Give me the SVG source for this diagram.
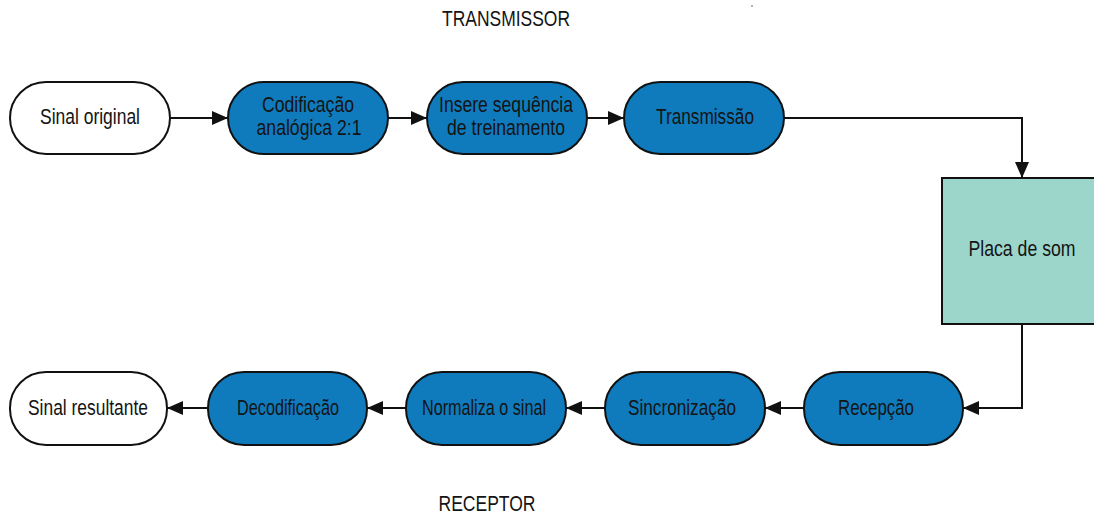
<svg xmlns="http://www.w3.org/2000/svg" width="1094" height="514" viewBox="0 0 1094 514">
  <style>
    .t { font-family: "Liberation Sans", Arial, sans-serif; font-size: 22px; fill: #141414; text-anchor: middle; }
    .term { fill: #ffffff; stroke: #111111; stroke-width: 2; }
    .step { fill: #0f7bbd; stroke: #111111; stroke-width: 2; }
    .box { fill: #9cd6cb; stroke: #111111; stroke-width: 2; }
    .wire { fill: none; stroke: #111111; stroke-width: 2; }
  </style>
  <defs>
    <marker id="arrow" viewBox="0 0 16 14" refX="16" refY="7" markerWidth="16" markerHeight="14" markerUnits="userSpaceOnUse" orient="auto">
      <path d="M0,0 L16,7 L0,14 Z" fill="#111111"/>
    </marker>
  </defs>
  <rect width="1094" height="514" fill="#ffffff"/>

  <!-- section titles -->
  <text class="t" x="506" y="26" textLength="128" lengthAdjust="spacingAndGlyphs">TRANSMISSOR</text>
  <text class="t" x="487" y="511" textLength="97" lengthAdjust="spacingAndGlyphs">RECEPTOR</text>
  <circle cx="752" cy="6" r="0.8" fill="#555555"/>

  <!-- connectors -->
  <g id="connectors">
    <path class="wire" d="M170,118 H228" marker-end="url(#arrow)"/>
    <path class="wire" d="M388,118 H427" marker-end="url(#arrow)"/>
    <path class="wire" d="M587,118 H624" marker-end="url(#arrow)"/>
    <path class="wire" d="M784,118 H1022 V178" marker-end="url(#arrow)"/>
    <path class="wire" d="M1022,324 V408 H963" marker-end="url(#arrow)"/>
    <path class="wire" d="M804,408 H765" marker-end="url(#arrow)"/>
    <path class="wire" d="M605,408 H566" marker-end="url(#arrow)"/>
    <path class="wire" d="M406,408 H367" marker-end="url(#arrow)"/>
    <path class="wire" d="M208,408 H167" marker-end="url(#arrow)"/>
  </g>

  <!-- transmitter chain -->
  <g id="sinal-original">
    <rect class="term" x="10" y="82" width="160" height="72" rx="36"/>
    <text class="t" x="90" y="124" textLength="100" lengthAdjust="spacingAndGlyphs">Sinal original</text>
  </g>
  <g id="codificacao">
    <rect class="step" x="228" y="82" width="160" height="72" rx="36"/>
    <text class="t" x="308" y="112" textLength="92" lengthAdjust="spacingAndGlyphs">Codificação</text>
    <text class="t" x="309" y="135" textLength="105" lengthAdjust="spacingAndGlyphs">analógica 2:1</text>
  </g>
  <g id="insere-sequencia">
    <rect class="step" x="427" y="82" width="160" height="72" rx="36"/>
    <text class="t" x="506" y="112" textLength="134" lengthAdjust="spacingAndGlyphs">Insere sequência</text>
    <text class="t" x="506" y="135" textLength="118" lengthAdjust="spacingAndGlyphs">de treinamento</text>
  </g>
  <g id="transmissao">
    <rect class="step" x="624" y="82" width="160" height="72" rx="36"/>
    <text class="t" x="705" y="124" textLength="98" lengthAdjust="spacingAndGlyphs">Transmissão</text>
  </g>

  <!-- sound card -->
  <g id="placa-de-som">
    <rect class="box" x="942" y="178" width="160" height="146"/>
    <text class="t" x="1022" y="256" textLength="107" lengthAdjust="spacingAndGlyphs">Placa de som</text>
  </g>

  <!-- receiver chain -->
  <g id="recepcao">
    <rect class="step" x="804" y="372" width="159" height="73" rx="36"/>
    <text class="t" x="876" y="415" textLength="76" lengthAdjust="spacingAndGlyphs">Recepção</text>
  </g>
  <g id="sincronizacao">
    <rect class="step" x="605" y="372" width="160" height="73" rx="36"/>
    <text class="t" x="682" y="415" textLength="108" lengthAdjust="spacingAndGlyphs">Sincronização</text>
  </g>
  <g id="normaliza">
    <rect class="step" x="406" y="372" width="160" height="73" rx="36"/>
    <text class="t" x="484" y="415" textLength="124" lengthAdjust="spacingAndGlyphs">Normaliza o sinal</text>
  </g>
  <g id="decodificacao">
    <rect class="step" x="208" y="372" width="159" height="73" rx="36"/>
    <text class="t" x="288" y="415" textLength="102" lengthAdjust="spacingAndGlyphs">Decodificação</text>
  </g>
  <g id="sinal-resultante">
    <rect class="term" x="10" y="372" width="157" height="73" rx="36"/>
    <text class="t" x="88" y="415" textLength="120" lengthAdjust="spacingAndGlyphs">Sinal resultante</text>
  </g>
</svg>
